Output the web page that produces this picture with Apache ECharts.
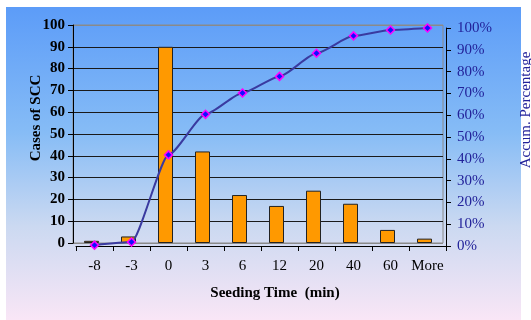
<!DOCTYPE html>
<html><head><meta charset="utf-8">
<script src="https://cdn.jsdelivr.net/npm/echarts@6/dist/echarts.min.js"></script>
<style>html,body{margin:0;padding:0;background:#fff}#c{width:531px;height:320px}</style>
</head><body><div id="c"></div>
<script>
var categories = ['-8','-3','0','3','6','12','20','40','60','More'];
var cases = [1, 3, 90, 42, 22, 17, 24, 18, 6, 2];
var accumPct = [0.4, 1.8, 41.8, 60.4, 70.2, 77.8, 88.4, 96.4, 99.1, 100];
var leftTicks = [0,10,20,30,40,50,60,70,80,90,100];

var serif = '"Liberation Serif","DejaVu Serif",serif';
var chart = echarts.init(document.getElementById('c'), null, {renderer:'canvas'});
var gridColors = leftTicks.map(function(v){ return (v===0||v===100) ? '#8a8a8a' : '#1a1a1a'; });
chart.setOption({
  animation:false,
  backgroundColor:'#ffffff',
  graphic:[
    {type:'rect', z:-10, shape:{x:6,y:7,width:515,height:313},
     style:{fill:new echarts.graphic.LinearGradient(0,0,0,1,[
       {offset:0,color:'#5c9cf8'},{offset:0.4,color:'#86bcf6'},
       {offset:0.7,color:'#cbd9f1'},{offset:1,color:'#f9e6f6'}])}},
    {type:'text', x:36, y:118, rotation:Math.PI/2,
     style:{text:'Cases of SCC', font:'bold 15px '+serif, fill:'#000', textAlign:'center', textVerticalAlign:'middle'}},
    {type:'text', x:526, y:110, rotation:Math.PI/2,
     style:{text:'Accum. Percentage', font:'15px '+serif, fill:'#22229a', textAlign:'center', textVerticalAlign:'middle'}},
    {type:'text', x:275, y:293,
     style:{text:'Seeding Time  (min)', font:'bold 15px '+serif, fill:'#000', textAlign:'center', textVerticalAlign:'middle'}}
  ],
  grid:[
    {left:73, top:25, width:370, height:218, show:true, borderColor:'#8a8a8a', borderWidth:1, backgroundColor:'transparent'},
    {left:76, top:28, width:370, height:218}
  ],
  xAxis:[
    {type:'category', gridIndex:0, data:categories, show:false, boundaryGap:true},
    {type:'category', gridIndex:1, data:categories, boundaryGap:true,
     axisLine:{show:true, lineStyle:{color:'#000', width:1}},
     axisTick:{show:true, length:5, interval:0, lineStyle:{color:'#000'}},
     axisLabel:{margin:13, interval:0, fontFamily:serif, fontSize:15, color:'#000'},
     splitLine:{show:false}}
  ],
  yAxis:[
    {type:'value', gridIndex:0, min:0, max:100, interval:10, position:'left',
     axisLine:{show:true, lineStyle:{color:'#000', width:1}},
     axisTick:{show:true, length:5, lineStyle:{color:'#000'}},
     axisLabel:{margin:8, fontFamily:serif, fontSize:15, fontWeight:'bold', color:'#000'},
     splitLine:{show:true, lineStyle:{color:gridColors, width:1}}},
    {type:'value', gridIndex:1, min:0, max:100, interval:10, position:'right',
     axisLine:{show:true, lineStyle:{color:'#000', width:1}},
     axisTick:{show:true, length:5, lineStyle:{color:'#000'}},
     axisLabel:{margin:11, fontFamily:serif, fontSize:15, color:'#22229a', formatter:'{value}%'},
     splitLine:{show:false}}
  ],
  series:[
    {type:'bar', xAxisIndex:0, yAxisIndex:0, data:cases, barWidth:15,
     itemStyle:{color:'#ff9900', borderColor:'#222', borderWidth:1}},
    {type:'line', xAxisIndex:1, yAxisIndex:1, data:accumPct, smooth:0.2, smoothMonotone:'x',
     lineStyle:{color:'#3a3aa0', width:2},
     symbol:'diamond', symbolSize:8,
     itemStyle:{color:'#1010ff', borderColor:'#ff00ff', borderWidth:1.5}}
  ]
});
</script></body></html>
